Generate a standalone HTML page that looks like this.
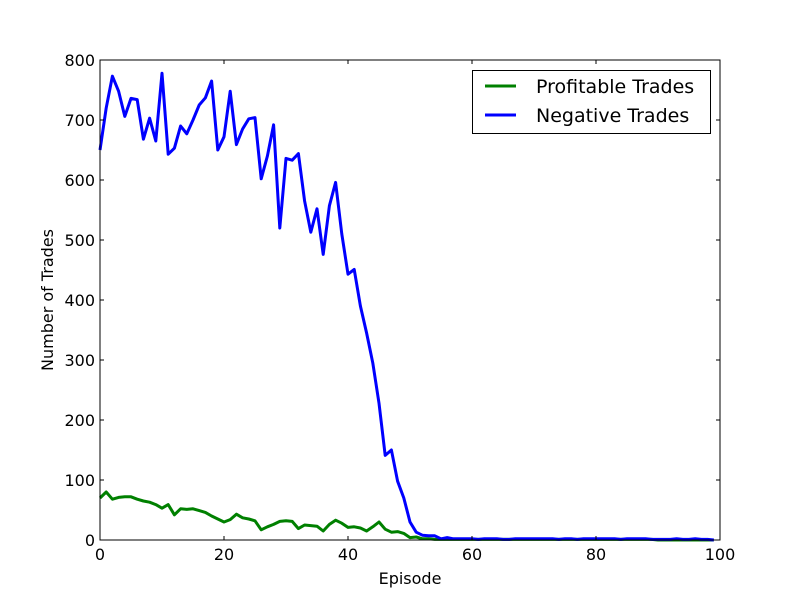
<!DOCTYPE html>
<html><head><meta charset="utf-8"><style>body{margin:0;background:#fff}svg{display:block}text{font-family:"DejaVu Sans","Liberation Sans",sans-serif}</style></head>
<body>
<svg id="chart" width="800" height="600"></svg>
<script>
const episodes = Array.from({length:100},(_,i)=>i);
const negativeTrades = [650,720,773,748,706,736,734,668,703,665,778,643,653,690,677,700,725,737,765,650,672,748,659,685,702,704,602,640,692,520,636,633,644,565,513,552,476,557,596,510,443,451,390,345,295,228,141,150,98,70,30,13,8,7,7,2,4,2,2,2,2,1,2,2,2,1,1,2,2,2,2,2,2,2,1,2,2,1,2,2,2,2,2,2,1,2,2,2,2,1,1,1,1,2,1,1,2,1,1,0];
const profitableTrades = [70,80,68,71,72,72,68,65,63,59,53,59,42,52,51,52,49,46,40,35,30,34,43,37,35,32,17,22,26,31,32,31,19,25,24,23,15,26,33,28,21,22,20,15,22,30,18,13,14,11,4,5,2,2,1,1,1,1,1,1,1,1,1,1,1,1,1,1,1,1,1,1,1,1,1,1,1,1,1,1,1,1,1,1,1,1,1,1,1,1,0,0,0,0,0,0,0,0,0,0];
const xTicks = [0,20,40,60,80,100];
const yTicks = [0,100,200,300,400,500,600,700,800];
const NS="http://www.w3.org/2000/svg";
const L=100,R=720,T=60,B=540;
const xs=v=>L+(v-0)/(100-0)*(R-L);
const ys=v=>B-(v-0)/(800-0)*(B-T);
const svg=document.getElementById('chart');
function mk(tag,attrs,parent){const e=document.createElementNS(NS,tag);for(const k in attrs)e.setAttribute(k,attrs[k]);(parent||svg).appendChild(e);return e;}
function line(data,color,name){
  const p=mk('polyline',{points:data.map((v,i)=>xs(episodes[i])+','+ys(v)).join(' '),fill:'none',stroke:color,'stroke-width':3,'stroke-linejoin':'round'});
  
  
}
line(profitableTrades,'#008000','profitable-trades-line');
line(negativeTrades,'#0000ff','negative-trades-line');
const frame=mk('rect',{x:L,y:T,width:R-L,height:B-T,fill:'none',stroke:'#000','stroke-width':1});


xTicks.forEach(t=>{
  mk('line',{x1:xs(t),x2:xs(t),y1:B,y2:B-4,stroke:'#000'});
  mk('line',{x1:xs(t),x2:xs(t),y1:T,y2:T+4,stroke:'#000'});
  const tx=mk('text',{x:xs(t),y:B+20,'text-anchor':'middle','font-size':16});
  tx.textContent=t;
  
  
});
yTicks.forEach(t=>{
  mk('line',{x1:L,x2:L+4,y1:ys(t),y2:ys(t),stroke:'#000'});
  mk('line',{x1:R,x2:R-4,y1:ys(t),y2:ys(t),stroke:'#000'});
  const tx=mk('text',{x:L-5,y:ys(t)+6,'text-anchor':'end','font-size':16});
  tx.textContent=t;
  
  
});
const xl=mk('text',{x:410,y:584,'text-anchor':'middle','font-size':16});
xl.textContent='Episode';


const yl=mk('text',{x:0,y:0,'text-anchor':'middle','font-size':16,transform:'translate(53,300) rotate(-90)'});
yl.textContent='Number of Trades';


const lg=mk('g',{});


mk('rect',{x:472.5,y:70.5,width:238,height:63,fill:'#fff',stroke:'#000'},lg);
[['Profitable Trades','#008000',86],['Negative Trades','#0000ff',115]].forEach(([n,c,y])=>{
  mk('line',{x1:485,x2:516,y1:y,y2:y,stroke:c,'stroke-width':3},lg);
  const t=mk('text',{x:536,y:y+7,'font-size':19},lg);
  t.textContent=n;
  
  
});
</script>
</body></html>
